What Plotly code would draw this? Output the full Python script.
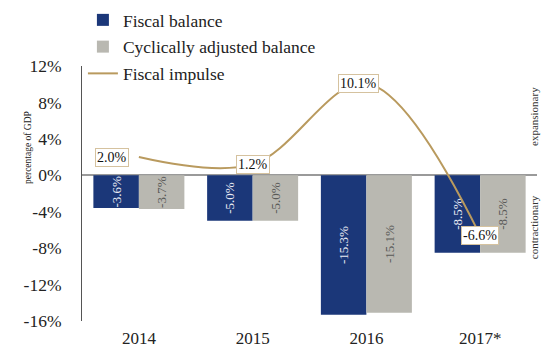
import plotly.graph_objects as go

# Data: fiscal indicators, percentage of GDP
years = ["2014", "2015", "2016", "2017*"]
fiscal_balance = [-3.6, -5.0, -15.3, -8.5]
cyclically_adjusted = [-3.7, -5.0, -15.1, -8.5]
fiscal_impulse = [2.0, 1.2, 10.1, -6.6]
y_ticks = [12, 8, 4, 0, -4, -8, -12, -16]

SERIF = "Liberation Serif"
BLUE = "#1b3779"
GREY = "#b9b8b1"
TAN = "#b99a5e"
BOX = "#d5c29f"


def pct(v):
    return f"{v:.1f}%"


fig = go.Figure()

fig.add_trace(go.Bar(
    x=years, y=fiscal_balance, name="Fiscal balance", legendgroup="fb",
    marker=dict(color=BLUE, line=dict(width=0)),
    text=[pct(v) for v in fiscal_balance], textposition="inside",
    insidetextanchor="middle", textangle=-90, constraintext="none",
    textfont=dict(family=SERIF, size=13, color="#e9ebf3"),
))
fig.add_trace(go.Bar(
    x=years, y=cyclically_adjusted, name="Cyclically adjusted balance",
    legendgroup="cab",
    marker=dict(color=GREY, line=dict(width=0)),
    text=[pct(v) for v in cyclically_adjusted], textposition="inside",
    insidetextanchor="middle", textangle=-90, constraintext="none",
    textfont=dict(family=SERIF, size=13, color="#5a5a58"),
))
fig.add_trace(go.Scatter(
    x=years, y=fiscal_impulse, name="Fiscal impulse", mode="lines",
    legendgroup="fi",
    line=dict(color=TAN, width=2, shape="spline", smoothing=1.0),
))

# Boxed value labels for the fiscal impulse line (positioned by category index)
label_shift = [-27, 0, -8, 0]
for i, (v, dx) in enumerate(zip(fiscal_impulse, label_shift)):
    fig.add_annotation(
        x=i, y=v, text=pct(v), showarrow=False, xshift=dx,
        font=dict(family=SERIF, size=14, color="#111111"),
        bgcolor="white", bordercolor=BOX, borderwidth=1, borderpad=1,
    )

# Axis title and stance captions
fig.add_annotation(
    xref="paper", yref="y", x=-0.134, y=3.0, text="percentage of GDP",
    textangle=-90, showarrow=False,
    font=dict(family=SERIF, size=9.5, color="#222222"),
)
fig.add_annotation(
    xref="paper", yref="y", x=1.011, y=6.4, text="expansionary",
    textangle=-90, showarrow=False,
    font=dict(family=SERIF, size=11, color="#333333"),
)
fig.add_annotation(
    xref="paper", yref="y", x=1.011, y=-5.7, text="contractionary",
    textangle=-90, showarrow=False,
    font=dict(family=SERIF, size=11, color="#333333"),
)

fig.update_layout(
    width=548, height=347,
    margin=dict(l=82, r=11, t=66, b=26, autoexpand=False),
    paper_bgcolor="white", plot_bgcolor="white",
    barmode="group", bargap=0.2, bargroupgap=0,
    font=dict(family=SERIF, color="#222222"),
    showlegend=True,
    legend=dict(
        x=0.002, y=1.251, xanchor="left", yanchor="top",
        orientation="v", traceorder="grouped",
        font=dict(family=SERIF, size=17.5, color="#222222"),
        bgcolor="rgba(0,0,0,0)", itemwidth=30, tracegroupgap=1,
    ),
    xaxis=dict(
        type="category", range=[-0.5, len(years) - 0.5], autorange=False,
        showline=False, showgrid=False, ticks="", ticklabelstandoff=5,
        tickfont=dict(family=SERIF, size=17, color="#222222"),
    ),
    yaxis=dict(
        range=[-16, 12], autorange=False, tickvals=y_ticks,
        ticktext=[f"{t}%" for t in y_ticks],
        showgrid=False, showline=True, linecolor="#555555", linewidth=1,
        zeroline=True, zerolinecolor="#9a9a9a", zerolinewidth=1.5,
        ticks="", ticklabelstandoff=16,
        tickfont=dict(family=SERIF, size=17.5, color="#222222"),
    ),
)

fig.write_html("out.html")
